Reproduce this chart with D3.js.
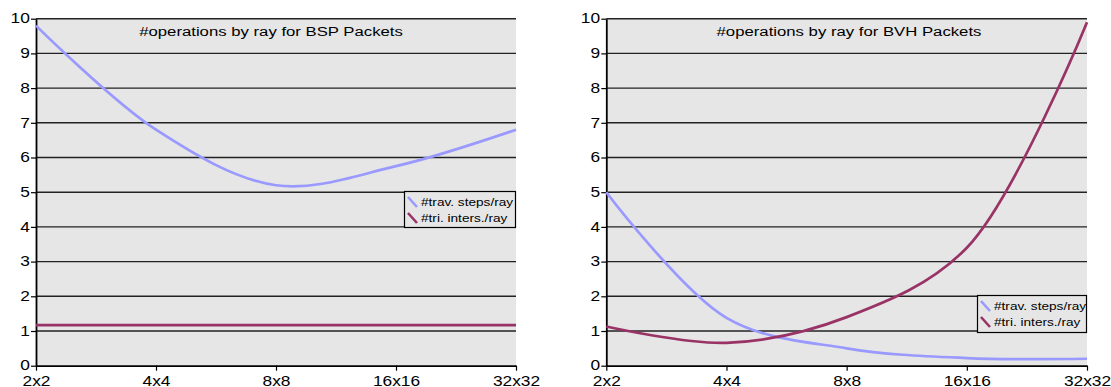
<!DOCTYPE html>
<html>
<head>
<meta charset="utf-8">
<script src="https://cdn.jsdelivr.net/npm/d3@7"></script>
<style>
  html, body { margin: 0; padding: 0; background: #fff; }
  svg { display: block; font-family: "Liberation Sans", Arial, sans-serif; }
</style>
</head>
<body>
<svg id="chart" width="1111" height="387"></svg>
<script>
// Packet sizes along the x axis
const packetSizes = ["2x2", "4x4", "8x8", "16x16", "32x32"];
const yTicks = [0, 1, 2, 3, 4, 5, 6, 7, 8, 9, 10];

// BSP packets
const bspTravSteps = [9.8, 6.8, 5.2, 5.75, 6.8];
const bspTriInters = [1.17, 1.17, 1.17, 1.17, 1.17];

// BVH packets
const bvhTravSteps = [5.0, 1.38, 0.5, 0.22, 0.2];
const bvhTriInters = [1.13, 0.66, 1.4, 3.4, 9.9];

const seriesNames = ["#trav. steps/ray", "#tri. inters./ray"];
const seriesColors = ["#9999ff", "#993366"];

// text is drawn slightly widened, as in the exported chart
const STRETCH = 1.24;
const FONT = "Liberation Sans, Arial, sans-serif";

const svg = d3.select("#chart");

function stretchedText(parent, x, y, str, size, anchor) {
  return parent.append("text")
    .attr("transform", `translate(${x},${y}) scale(${STRETCH},1)`)
    .attr("text-anchor", anchor || "start")
    .attr("font-size", size)
    .attr("font-family", FONT)
    .attr("fill", "#000")
    .text(str);
}

function drawPanel(opts) {
  const { left, right, top, bottom, title, titleX, data, legend } = opts;
  const x = d3.scalePoint().domain(packetSizes).range([left, right]);
  const y = d3.scaleLinear().domain([0, 10]).range([bottom, top]);
  const g = svg.append("g");

  // plot area
  g.append("rect")
    .attr("x", left).attr("y", top)
    .attr("width", right - left).attr("height", bottom - top)
    .attr("fill", "#e6e6e6");

  // horizontal gridlines (including the top border at 10)
  g.selectAll("line.grid").data(yTicks.filter(d => d > 0)).join("line")
    .attr("class", "grid")
    .attr("x1", left).attr("x2", right)
    .attr("y1", d => y(d)).attr("y2", d => y(d))
    .attr("stroke", "#222").attr("stroke-width", 1.4);

  // y axis
  const yAxis = d3.axisLeft(y).tickValues(yTicks).tickSize(5).tickSizeOuter(0);
  const ya = g.append("g").attr("transform", `translate(${left},0)`).call(yAxis);
  ya.select(".domain").attr("stroke", "#000").attr("stroke-width", 1.8);
  ya.selectAll(".tick line").attr("stroke", "#000").attr("stroke-width", 1.2);
  ya.selectAll(".tick text")
    .attr("font-size", 14).attr("fill", "#000")
    .attr("font-family", FONT)
    .attr("x", -5)
    .attr("dy", "0.3em")
    .attr("transform", `scale(${STRETCH},1)`);

  // x axis
  const xAxis = d3.axisBottom(x).tickSize(5).tickSizeOuter(0);
  const xa = g.append("g").attr("transform", `translate(0,${bottom})`).call(xAxis);
  xa.select(".domain").attr("stroke", "#000").attr("stroke-width", 1.8);
  xa.selectAll(".tick line").attr("stroke", "#000").attr("stroke-width", 1.2);
  xa.selectAll(".tick text")
    .attr("font-size", 14).attr("fill", "#000")
    .attr("font-family", FONT)
    .attr("y", 10)
    .attr("transform", `scale(${STRETCH},1)`);

  // series lines
  const line = d3.line()
    .x((d, i) => x(packetSizes[i]))
    .y(d => y(d))
    .curve(d3.curveCatmullRom.alpha(0.5));
  data.forEach((vals, i) => {
    g.append("path")
      .datum(vals)
      .attr("d", line)
      .attr("fill", "none")
      .attr("stroke", seriesColors[i])
      .attr("stroke-width", 2.7)
      .attr("stroke-linejoin", "round");
  });

  // title
  stretchedText(g, titleX, top + 17, title, 13.5, "middle");

  // legend
  const lg = g.append("g");
  lg.append("rect")
    .attr("x", legend.x + 0.5).attr("y", legend.y + 0.5)
    .attr("width", legend.w).attr("height", legend.h)
    .attr("fill", "#e6e6e6").attr("stroke", "#000").attr("stroke-width", 1.2);
  seriesNames.forEach((name, i) => {
    const cy = legend.y + 11 + i * 16;
    lg.append("line")
      .attr("x1", legend.x + 4).attr("y1", cy - 5)
      .attr("x2", legend.x + 13).attr("y2", cy + 5)
      .attr("stroke", seriesColors[i]).attr("stroke-width", 2.6);
    stretchedText(lg, legend.x + 17, cy + 4, name, 11, "start");
  });
}

drawPanel({
  left: 36, right: 516, top: 18.7, bottom: 365.7,
  title: "#operations by ray for BSP Packets", titleX: 271,
  data: [bspTravSteps, bspTriInters],
  legend: { x: 404, y: 191, w: 111, h: 36 }
});

drawPanel({
  left: 606.3, right: 1087, top: 18.7, bottom: 365.7,
  title: "#operations by ray for BVH Packets", titleX: 849,
  data: [bvhTravSteps, bvhTriInters],
  legend: { x: 977, y: 295, w: 109, h: 37 }
});
</script>
</body>
</html>
